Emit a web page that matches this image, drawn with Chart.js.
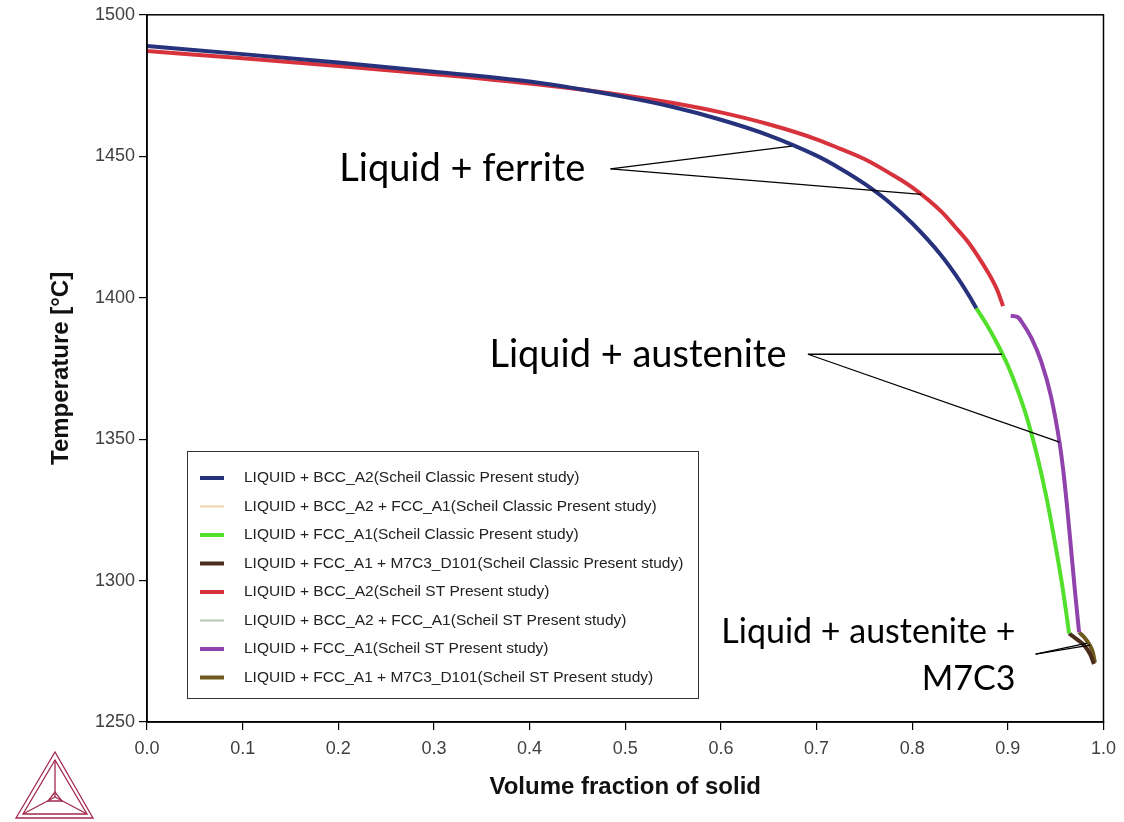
<!DOCTYPE html>
<html>
<head>
<meta charset="utf-8">
<title>Scheil solidification paths</title>
<script src="https://cdn.jsdelivr.net/npm/chart.js@4.4.1/dist/chart.umd.min.js"></script>
<style>
  html, body { margin: 0; padding: 0; background: #fff; }
</style>
</head>
<body>
<canvas id="scheilChart" width="1124" height="822"></canvas>
<script>
// Scheil Classic: LIQUID + BCC_A2
const classicBccFs = [0.0, 0.1, 0.2, 0.3, 0.4, 0.5, 0.55, 0.6, 0.65, 0.7, 0.725, 0.75, 0.775, 0.8, 0.83, 0.85, 0.86, 0.867];
const classicBccT  = [1489.0, 1486.1, 1483.1, 1479.9, 1476.4, 1470.9, 1467.4, 1462.9, 1457.4, 1450.2, 1445.6, 1440.3, 1434.0, 1426.3, 1415.1, 1405.8, 1400.4, 1396.3];

// Scheil Classic: LIQUID + FCC_A1
const classicFccFs = [0.867, 0.878, 0.889, 0.9, 0.91, 0.92, 0.93, 0.94, 0.95, 0.957, 0.961, 0.964];
const classicFccT  = [1396.3, 1390.4, 1383.7, 1376.0, 1367.5, 1357.5, 1345.0, 1330.0, 1312.0, 1298.0, 1288.8, 1281.3];

// Scheil Classic: LIQUID + FCC_A1 + M7C3_D101
const classicM7c3Fs = [0.964, 0.972, 0.98, 0.986, 0.99];
const classicM7c3T  = [1281.3, 1279.3, 1277.0, 1274.0, 1270.5];

// Scheil ST: LIQUID + BCC_A2
const stBccFs = [0.0, 0.1, 0.2, 0.3, 0.4, 0.5, 0.55, 0.6, 0.65, 0.7, 0.725, 0.75, 0.775, 0.8, 0.83, 0.845, 0.86, 0.87, 0.88, 0.889, 0.895];
const stBccT  = [1487.2, 1484.6, 1481.9, 1479.0, 1475.7, 1471.5, 1468.8, 1465.5, 1461.3, 1456.0, 1452.6, 1449.0, 1444.3, 1439.0, 1430.6, 1425.0, 1419.0, 1414.0, 1408.5, 1402.6, 1397.0];

// Scheil ST: LIQUID + FCC_A1
const stFccFs = [0.903, 0.91, 0.915, 0.925, 0.935, 0.945, 0.954, 0.958, 0.962, 0.966, 0.97, 0.9745];
const stFccT  = [1393.6, 1393.2, 1391.2, 1385.5, 1377.3, 1365.3, 1348.9, 1338.7, 1325.9, 1311.5, 1296.9, 1281.7];

// Scheil ST: LIQUID + FCC_A1 + M7C3_D101
const stM7c3Fs = [0.9745, 0.981, 0.986, 0.989, 0.991];
const stM7c3T  = [1281.7, 1279.5, 1277.0, 1274.5, 1271.0];

const xTicks = [0, 0.1, 0.2, 0.3, 0.4, 0.5, 0.6, 0.7, 0.8, 0.9, 1.0];
const yTicks = [1250, 1300, 1350, 1400, 1450, 1500];

const seriesLabels = [
  'LIQUID + BCC_A2(Scheil Classic Present study)',
  'LIQUID + BCC_A2 + FCC_A1(Scheil Classic Present study)',
  'LIQUID + FCC_A1(Scheil Classic Present study)',
  'LIQUID + FCC_A1 + M7C3_D101(Scheil Classic Present study)',
  'LIQUID + BCC_A2(Scheil ST Present study)',
  'LIQUID + BCC_A2 + FCC_A1(Scheil ST Present study)',
  'LIQUID + FCC_A1(Scheil ST Present study)',
  'LIQUID + FCC_A1 + M7C3_D101(Scheil ST Present study)'
];

const calloutTexts = ['Liquid + ferrite', 'Liquid + austenite', 'Liquid + austenite +', 'M7C3'];

const toPoints = (fs, t) => fs.map((v, i) => ({ x: v, y: t[i] }));

const seriesData = [
  toPoints(classicBccFs, classicBccT),
  [],
  toPoints(classicFccFs, classicFccT),
  toPoints(classicM7c3Fs, classicM7c3T),
  toPoints(stBccFs, stBccT),
  [],
  toPoints(stFccFs, stFccT),
  toPoints(stM7c3Fs, stM7c3T)
];

const seriesColors = ['#27327c', '#ecd4a8', '#52e02c', '#4a2c1c', '#d7333d', '#b9c8b2', '#9043ad', '#6f5a1e'];
const legendWidths = [4, 2, 4, 4, 4, 2, 4, 4];

const datasets = seriesLabels.map((label, i) => ({
  label: label,
  data: seriesData[i],
  borderColor: seriesColors[i],
  backgroundColor: seriesColors[i],
  borderWidth: 4,
  pointRadius: 0,
  showLine: true,
  fill: false,
  cubicInterpolationMode: 'monotone'
}));

// callout leader lines, in (fraction solid, temperature)
const callouts = [
  { text: 0, size: 38, at: [0.201, 1441.4], align: 'left',  from: [0.4846, 1445.5], to: [[0.674, 1453.6], [0.8095, 1436.5]] },
  { text: 1, size: 38, at: [0.358, 1375.4], align: 'left',  from: [0.691, 1380.0],  to: [[0.894, 1380.0], [0.954, 1348.9]] },
  { text: 2, size: 34, at: [0.908, 1277.9], align: 'right', from: [0.929, 1274.0],  to: [[0.983, 1277.9], [0.986, 1277.2]] },
  { text: 3, size: 34, at: [0.908, 1261.3], align: 'right' }
];

const decorations = {
  id: 'decorations',
  afterDraw(chart) {
    const { ctx, chartArea: a, scales: { x, y } } = chart;
    ctx.save();

    // plot frame
    ctx.strokeStyle = '#000';
    ctx.lineWidth = 1.5;
    ctx.strokeRect(a.left, a.top, a.right - a.left, a.bottom - a.top);

    // callouts
    ctx.lineWidth = 1.3;
    ctx.fillStyle = '#000';
    ctx.textBaseline = 'alphabetic';
    callouts.forEach(c => {
      if (c.from) {
        const px = x.getPixelForValue(c.from[0]);
        const py = y.getPixelForValue(c.from[1]);
        c.to.forEach(([fs, t]) => {
          ctx.beginPath();
          ctx.moveTo(px, py);
          ctx.lineTo(x.getPixelForValue(fs), y.getPixelForValue(t));
          ctx.stroke();
        });
      }
      ctx.font = c.size + 'px Lato';
      ctx.textAlign = c.align;
      ctx.fillText(calloutTexts[c.text], x.getPixelForValue(c.at[0]), y.getPixelForValue(c.at[1]));
    });

    // legend box
    const lx = 187, ly = 451, lw = 511, lh = 247;
    ctx.fillStyle = '#fff';
    ctx.fillRect(lx, ly, lw, lh);
    ctx.strokeStyle = '#333';
    ctx.lineWidth = 1;
    ctx.strokeRect(lx + 0.5, ly + 0.5, lw, lh);
    ctx.font = '15.5px "Liberation Sans", Arial, sans-serif';
    ctx.textAlign = 'left';
    ctx.textBaseline = 'middle';
    chart.data.datasets.forEach((ds, i) => {
      const rowY = ly + 27 + i * 28.5;
      ctx.strokeStyle = ds.borderColor;
      ctx.lineWidth = legendWidths[i];
      ctx.beginPath();
      ctx.moveTo(200, rowY);
      ctx.lineTo(224, rowY);
      ctx.stroke();
      ctx.fillStyle = '#222';
      ctx.fillText(ds.label, 244, rowY);
    });

    // triangle logo, bottom left
    ctx.strokeStyle = '#a3284e';
    ctx.lineWidth = 1.3;
    const tri = (p) => {
      ctx.beginPath();
      ctx.moveTo(p[0][0], p[0][1]);
      ctx.lineTo(p[1][0], p[1][1]);
      ctx.lineTo(p[2][0], p[2][1]);
      ctx.closePath();
      ctx.stroke();
    };
    tri([[55, 752], [16, 818], [93, 818]]);
    tri([[55, 760], [23, 814], [87, 814]]);
    const cx = 55, cy = 797;
    [[55, 760], [23, 814], [87, 814]].forEach(([vx, vy]) => {
      ctx.beginPath();
      ctx.moveTo(vx, vy);
      ctx.lineTo(cx, cy);
      ctx.stroke();
    });
    tri([[55, 792], [48, 801], [62, 801]]);

    ctx.restore();
  }
};

new Chart(document.getElementById('scheilChart').getContext('2d'), {
  type: 'scatter',
  data: { datasets: datasets },
  options: {
    responsive: false,
    animation: false,
    layout: { padding: { top: 14, right: 18, left: 0, bottom: 0 } },
    plugins: {
      legend: { display: false },
      tooltip: { enabled: false }
    },
    scales: {
      x: {
        type: 'linear',
        min: 0,
        max: 1,
        afterFit: (s) => { s.height = 100; },
        afterBuildTicks: (s) => { s.ticks = xTicks.map(v => ({ value: v })); },
        ticks: {
          callback: (v) => v.toFixed(1),
          color: '#404040',
          padding: 8,
          maxRotation: 0,
          font: { family: '"Liberation Sans", Arial, sans-serif', size: 18 }
        },
        grid: { drawOnChartArea: false, drawTicks: true, tickLength: 8, color: '#000', lineWidth: 1.2 },
        border: { display: true, color: '#000', width: 1.5 },
        title: {
          display: true,
          text: 'Volume fraction of solid',
          color: '#111',
          padding: { top: 0, bottom: 20 },
          font: { family: '"Liberation Sans", Arial, sans-serif', size: 24, weight: 'bold' }
        }
      },
      y: {
        type: 'linear',
        min: 1250,
        max: 1500,
        afterFit: (s) => { s.width = 147; },
        afterBuildTicks: (s) => { s.ticks = yTicks.map(v => ({ value: v })); },
        ticks: {
          callback: (v) => String(v),
          color: '#404040',
          padding: 4,
          font: { family: '"Liberation Sans", Arial, sans-serif', size: 18 }
        },
        grid: { drawOnChartArea: false, drawTicks: true, tickLength: 8, color: '#000', lineWidth: 1.2 },
        border: { display: true, color: '#000', width: 1.5 },
        title: {
          display: true,
          text: 'Temperature [°C]',
          color: '#111',
          padding: { top: 47, bottom: 0 },
          font: { family: '"Liberation Sans", Arial, sans-serif', size: 24, weight: 'bold' }
        }
      }
    }
  },
  plugins: [decorations]
});
</script>
</body>
</html>
